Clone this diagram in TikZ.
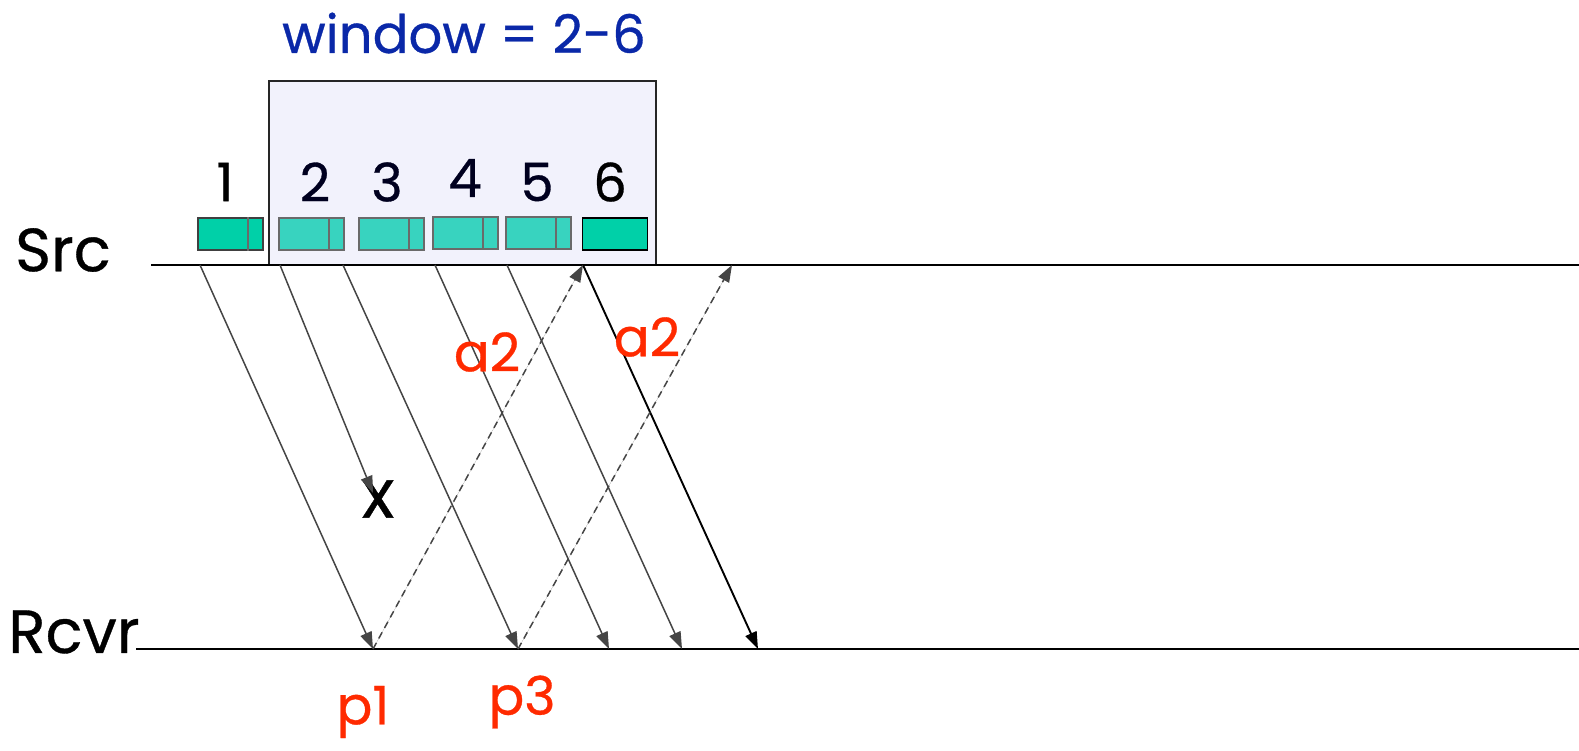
\documentclass[tikz,border=0pt]{standalone}
\usepackage{fontspec}
\setmainfont{Poppins}[FakeBold=0.6]
\usetikzlibrary{arrows.meta}
\definecolor{pktbright}{HTML}{00D0A8}
\definecolor{pktpale}{HTML}{38D3BF}
\definecolor{wingray}{HTML}{F2F2FC}
\definecolor{msggray}{HTML}{454545}
\definecolor{acred}{HTML}{FF2A00}
\definecolor{winblue}{HTML}{0A28A8}
\begin{document}
\begin{tikzpicture}[x=1pt,y=-1pt,
    msg/.style={-{Triangle[length=17pt,width=12pt]}, line width=1.5pt, draw=msggray, fill=msggray},
    ack/.style={msg, dash pattern=on 7pt off 5pt},
    pkt/.style={draw=msggray!80, line width=1.6pt, minimum width=65pt, minimum height=32pt, inner sep=0pt},
    big/.style={font=\fontsize{53}{60}\selectfont},
    huge/.style={font=\fontsize{61}{68}\selectfont}]
    \useasboundingbox (0,0) rectangle (1579,750);

    % sender window
    \node[draw=black!85, line width=1.6pt, fill=wingray, minimum width=387pt, minimum height=184pt,
      inner sep=0pt] (win) at (462.5,173) {};
    \node[big, text=winblue] (winlbl) at (464,33) {window = 2-6};

    % time lines
    \node[huge] (src) at (63,250) {Src};
    \node[huge] (rcvr) at (74,632) {Rcvr};
    \coordinate (srcL) at (151,265);
    \coordinate (srcR) at (1579,265);
    \coordinate (rcvL) at (136,649);
    \coordinate (rcvR) at (1579,649);
    \draw[line width=2pt] (srcL) -- (srcR);
    \draw[line width=2pt] (rcvL) -- (rcvR);

    % packets
    \node[pkt, fill=pktbright, draw=black!75] (pkt1) at (230.5,234) {};
    \foreach \n/\x/\y in {2/311.5/234, 3/391.5/234, 4/465.5/233, 5/538.5/233}
      \node[pkt, fill=pktpale] (pkt\n) at (\x,\y) {};
    \node[pkt, fill=pktbright, draw=black] (pkt6) at (615,234) {};
    \foreach \n in {1,...,5}
      \draw[line width=1.6pt, draw=msggray!80] ([xshift=-16pt]pkt\n.north east) -- ([xshift=-16pt]pkt\n.south east);

    \node[big] (num1) at (225,182) {1};
    \foreach \n/\x/\y in {2/315/182, 3/387/182, 4/465/178, 5/537/182}
      \node[big, text=black!80!blue!60!black] (num\n) at (\x,\y) {\n};
    \node[big] (num6) at (610,182) {6};

    % data packets
    \coordinate (s1) at (200,265);
    \coordinate (s2) at (280,265);
    \coordinate (s3) at (343,265);
    \coordinate (s4) at (435,265);
    \coordinate (s5) at (507,265);
    \coordinate (s6) at (583,265);
    \coordinate (s7) at (732,265);
    \coordinate (r1) at (373,649);
    \coordinate (r3) at (518,649);
    \coordinate (r4) at (609,649);
    \coordinate (r5) at (682,649);
    \coordinate (r6) at (758,649);
    \coordinate (lost) at (373,493);

    \node[font=\fontsize{68}{72}\selectfont] (cross) at (378,499) {x};
    \draw[msg] (s2) -- (lost);
    \foreach \n in {1,3,4,5}
      \draw[msg] (s\n) -- (r\n);
    \draw[msg, line width=1.9pt, draw=black, fill=black] (s6) -- (r6);

    % acks
    \draw[ack] (r1) -- (s6);
    \draw[ack] (r3) -- (s7);

    \node[big, text=acred] (ack1) at (487,352) {a2};
    \node[big, text=acred] (ack2) at (647,337) {a2};
    \node[big, text=acred] (lbl1) at (363,712) {p1};
    \node[big, text=acred] (lbl3) at (522,702) {p3};
\end{tikzpicture}
\end{document}
